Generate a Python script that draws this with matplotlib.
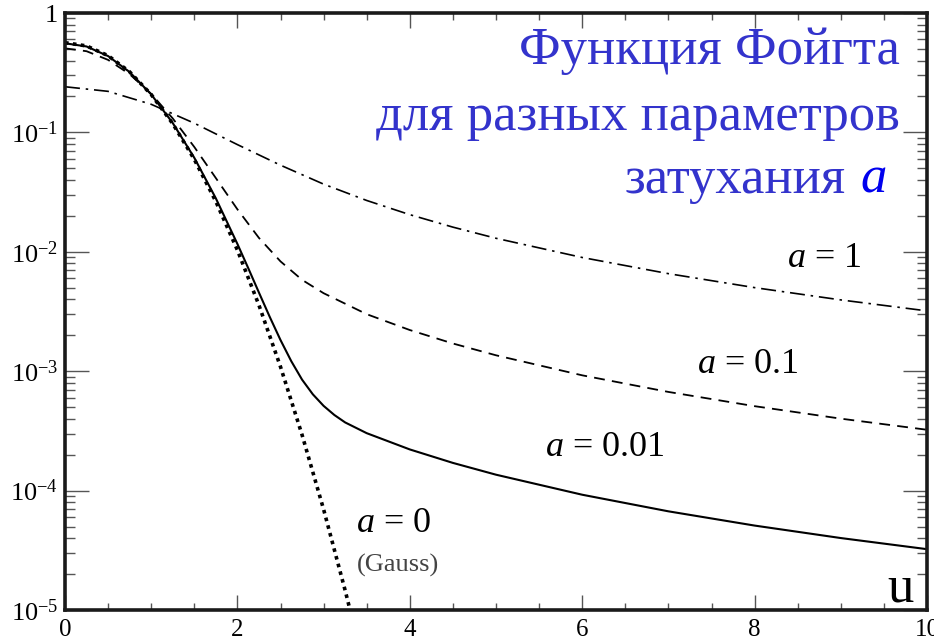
import matplotlib
matplotlib.use('Agg')
import matplotlib.pyplot as plt
from matplotlib.ticker import MultipleLocator, LogLocator, FixedLocator, FixedFormatter

plt.rcParams['font.family'] = ['Liberation Serif', 'DejaVu Serif']
plt.rcParams['mathtext.fontset'] = 'custom'
plt.rcParams['mathtext.rm'] = 'Liberation Serif'
plt.rcParams['mathtext.it'] = 'Liberation Serif:italic'

# profile values, u = distance from line centre
u_gauss = [0, 0.25, 0.5, 0.75, 1.0, 1.25, 1.5, 1.75, 2.0, 2.25, 2.5, 2.75, 3.0, 3.25, 3.4]
phi_gauss = [0.5642, 0.5300, 0.4394, 0.3215, 0.2076, 0.1183, 0.05947, 0.02639, 0.01033,
             0.003572, 0.001089, 0.0002932, 6.963e-5, 1.459e-5, 5.38e-6]

u_a001 = [0, 0.25, 0.5, 0.75, 1.0, 1.25, 1.5, 1.75, 2.0, 2.125, 2.25, 2.375, 2.5, 2.625,
          2.75, 2.875, 3.0, 3.125, 3.25, 3.5, 4, 4.5, 5, 6, 7, 8, 9, 10]
phi_a001 = [0.5578, 0.5244, 0.4357, 0.3201, 0.2080, 0.1198, 0.06128, 0.02803, 0.01164,
            0.007317, 0.004554, 0.002852, 0.001824, 0.001213, 0.000850, 0.0006405,
            0.0005125, 0.0004296, 0.0003723, 0.0003027, 0.0002212, 0.0001706, 0.0001359,
            9.236e-5, 6.705e-5, 5.095e-5, 4.005e-5, 3.232e-5]

u_a01 = [0, 0.25, 0.5, 0.75, 1.0, 1.25, 1.5, 1.75, 2.0, 2.25, 2.5, 2.75, 3.0, 3.5, 4,
         4.5, 5, 6, 7, 8, 9, 10]
phi_a01 = [0.5058, 0.4786, 0.4049, 0.3073, 0.2103, 0.1309, 0.07551, 0.04145, 0.02269,
           0.01307, 0.008311, 0.005823, 0.004501, 0.003003, 0.002212, 0.001706, 0.001359,
           0.0009236, 0.0006705, 0.0005095, 0.0004005, 0.0003232]

u_a1 = [0, 0.5, 1.0, 1.5, 2.0, 2.5, 3.0, 3.5, 4.0, 4.5, 5, 6, 7, 8, 9, 10]
phi_a1 = [0.2412, 0.2207, 0.1719, 0.1194, 0.07903, 0.05314, 0.03687, 0.02691, 0.02047,
          0.01609, 0.01298, 0.008962, 0.006562, 0.005012, 0.003954, 0.003199]

x_ticks = [0, 2, 4, 6, 8, 10]
y_ticks = [1e-5, 1e-4, 1e-3, 1e-2, 1e-1, 1]
y_labels = ['$10^{-5}$', '$10^{-4}$', '$10^{-3}$', '$10^{-2}$', '$10^{-1}$', '1']

W, H = 934, 639

def fp(x, y):
    # pixel position -> figure fraction
    return x / W, 1 - y / H

fig = plt.figure(figsize=(W / 100, H / 100), dpi=100)
ax = fig.add_axes([65 / W, 29 / H, 862 / W, 597 / H])

ax.plot(u_gauss, phi_gauss, color='black', lw=2.6, linestyle=(0, (1, 1.2)))
ax.plot(u_a001, phi_a001, color='black', lw=1.5, linestyle='-')
ax.plot(u_a01, phi_a01, color='black', lw=1.3, linestyle=(0, (6, 4)))
ax.plot(u_a1, phi_a1, color='black', lw=1.2, linestyle=(0, (9, 3.5, 1.5, 3.5)))

ax.set_yscale('log')
ax.set_xlim(0, 10)
ax.set_ylim(1e-5, 1)

ax.xaxis.set_major_locator(FixedLocator(x_ticks))
ax.xaxis.set_minor_locator(MultipleLocator(0.5))
ax.yaxis.set_major_locator(FixedLocator(y_ticks))
ax.yaxis.set_major_formatter(FixedFormatter(y_labels))
ax.yaxis.set_minor_locator(LogLocator(base=10, subs=range(2, 10)))
ax.yaxis.set_minor_formatter(FixedFormatter([]))

ax.tick_params(which='both', direction='in', top=True, right=True,
               color='#555555', width=1)
ax.tick_params(axis='x', which='major', length=11, pad=6.5, labelsize=18)
ax.tick_params(axis='x', which='minor', length=5)
ax.tick_params(axis='y', which='major', length=17, pad=5, labelsize=19)
ax.tick_params(axis='y', which='minor', length=7)

for sp in ax.spines.values():
    sp.set_linewidth(2.6)
    sp.set_color('#1a1a1a')

# title
fig.text(*fp(900, 64), 'Функция Фойгта', ha='right', va='baseline',
         fontsize=38, color='#3333cc')
fig.text(*fp(900, 130), 'для разных параметров', ha='right', va='baseline',
         fontsize=38, color='#3333cc')
fig.text(*fp(846, 193), 'затухания', ha='right', va='baseline',
         fontsize=38, color='#3333cc')
fig.text(*fp(860, 193), 'a', ha='left', va='baseline', fontsize=38,
         style='italic', color='#0000ee')

# curve labels
fig.text(*fp(787, 267), '$a$ = 1', va='baseline', fontsize=26)
fig.text(*fp(697, 373), '$a$ = 0.1', va='baseline', fontsize=26)
fig.text(*fp(545, 456), '$a$ = 0.01', va='baseline', fontsize=26)
fig.text(*fp(356, 532), '$a$ = 0', va='baseline', fontsize=26)
fig.text(*fp(357, 572), '(Gauss)', va='baseline', fontsize=19, color='#444444')
fig.text(*fp(887, 602), 'u', va='baseline', fontsize=38)

fig.savefig('out.png', dpi=100)
